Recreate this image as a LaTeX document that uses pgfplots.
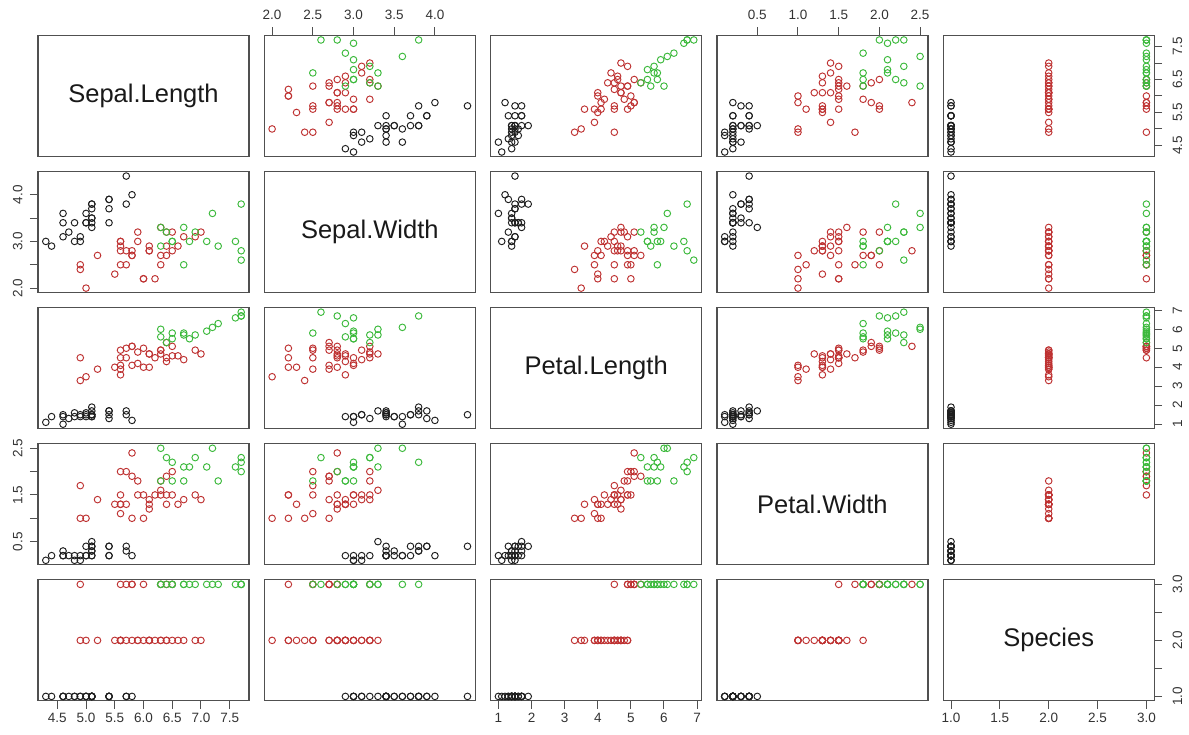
\documentclass[border=0pt]{standalone}
\usepackage{pgfplots}
\pgfplotsset{compat=1.18}
\usepackage{pgfplotstable}
\usepackage{fontspec}
\setmainfont{Liberation Sans}

\definecolor{cA}{RGB}{30,30,30}
\definecolor{cB}{RGB}{190,50,50}
\definecolor{cC}{RGB}{60,185,60}
\definecolor{frm}{RGB}{80,80,80}

% cluster 1 (black)
\pgfplotstableread{
SL SW PL PW Sp
4.3 3.0 1.1 0.1 1
4.4 2.9 1.4 0.2 1
4.6 3.6 1.0 0.2 1
4.6 3.4 1.4 0.3 1
4.6 3.1 1.5 0.2 1
4.7 3.2 1.3 0.2 1
4.8 3.4 1.6 0.2 1
4.8 3.0 1.4 0.1 1
4.9 3.1 1.5 0.1 1
4.9 3.0 1.4 0.2 1
5.0 3.6 1.4 0.2 1
5.0 3.4 1.5 0.2 1
5.0 3.4 1.6 0.4 1
5.1 3.8 1.5 0.3 1
5.1 3.8 1.9 0.4 1
5.1 3.7 1.5 0.4 1
5.1 3.5 1.4 0.2 1
5.1 3.5 1.4 0.3 1
5.1 3.4 1.5 0.2 1
5.1 3.3 1.7 0.5 1
5.4 3.9 1.7 0.4 1
5.4 3.9 1.3 0.4 1
5.4 3.7 1.5 0.2 1
5.4 3.4 1.7 0.2 1
5.7 4.4 1.5 0.4 1
5.7 3.8 1.7 0.3 1
5.8 4.0 1.2 0.2 1
}\clA

% cluster 2 (red)
\pgfplotstableread{
SL SW PL PW Sp
4.9 2.4 3.3 1.0 2
5.0 2.0 3.5 1.0 2
5.2 2.7 3.9 1.4 2
5.5 2.3 4.0 1.3 2
5.6 3.0 4.5 1.5 2
5.6 3.0 4.1 1.3 2
5.6 2.9 3.6 1.3 2
5.6 2.5 3.9 1.1 2
5.7 2.8 4.5 1.3 2
5.8 2.7 4.1 1.0 2
5.9 3.2 4.8 1.8 2
5.9 3.0 4.2 1.5 2
6.0 2.2 4.0 1.0 2
6.1 2.9 4.7 1.4 2
6.1 2.8 4.0 1.3 2
6.1 2.8 4.7 1.2 2
6.2 2.2 4.5 1.5 2
6.3 3.3 4.7 1.6 2
6.3 2.5 4.9 1.5 2
6.4 3.2 4.5 1.5 2
6.4 2.9 4.3 1.3 2
6.5 2.8 4.6 1.5 2
6.6 2.9 4.6 1.3 2
6.7 3.1 4.4 1.4 2
6.9 3.1 4.9 1.5 2
7.0 3.2 4.7 1.4 2
4.9 2.5 4.5 1.7 3
5.6 2.8 4.9 2.0 3
5.7 2.5 5.0 2.0 3
5.8 2.8 5.1 2.4 3
5.8 2.7 5.1 1.9 3
6.0 2.2 5.0 1.5 3
6.3 2.7 4.9 1.8 3
6.4 2.7 5.3 1.9 3
6.5 3.2 5.1 2.0 3
}\clB

% cluster 3 (green)
\pgfplotstableread{
SL SW PL PW Sp
6.3 3.3 6.0 2.5 3
6.4 3.2 5.3 2.3 3
6.3 2.9 5.6 1.8 3
6.5 3.0 5.8 2.2 3
6.5 3.0 5.5 1.8 3
6.7 3.3 5.7 2.1 3
6.7 2.5 5.8 1.8 3
6.8 3.0 5.5 2.1 3
6.9 3.2 5.7 2.3 3
7.1 3.0 5.9 2.1 3
7.2 3.6 6.1 2.5 3
7.3 2.9 6.3 1.8 3
7.6 3.0 6.6 2.1 3
7.7 3.8 6.7 2.2 3
7.7 2.8 6.7 2.0 3
7.7 2.6 6.9 2.3 3
}\clC

\def\minSL{4.164}\def\maxSL{7.836}
\def\minSW{1.904}\def\maxSW{4.496}
\def\minPL{0.764}\def\maxPL{7.136}
\def\minPW{0.004}\def\maxPW{2.596}
\def\minSp{0.92}\def\maxSp{3.08}

\pgfplotsset{
  panel/.style={
    scale only axis, width=211pt, height=121pt, anchor=north west,
    clip=false,
    axis line style={frm, line width=1.2pt},
    every tick/.style={frm, line width=1pt},
    tick align=outside, major tick length=8pt,
    xtick=\empty, ytick=\empty,
    ticklabel style={font=\fontsize{13.5}{13.5}\selectfont, text=black!80},
  },
  pt/.style={only marks, mark=o, mark size=3.3pt, mark options={line width=0.95pt}},
  topax/.style={xtick pos=right, xticklabel pos=right, xticklabel shift=4pt},
  botax/.style={xtick pos=left, xticklabel pos=left, xticklabel shift=1pt},
  leftax/.style={ytick pos=left, yticklabel pos=left, yticklabel shift=4pt,
     yticklabel style={rotate=90, anchor=south}},
  rightax/.style={ytick pos=right, yticklabel pos=right, yticklabel shift=7pt,
     yticklabel style={rotate=90, anchor=north}},
  tSW/.style={topax, xtick={2,2.5,3,3.5,4}, xticklabels={2.0,2.5,3.0,3.5,4.0}},
  tPW/.style={topax, xtick={0.5,1,1.5,2,2.5}, xticklabels={0.5,1.0,1.5,2.0,2.5}},
  bSL/.style={botax, xtick={4.5,5,5.5,6,6.5,7,7.5}, xticklabels={4.5,5.0,5.5,6.0,6.5,7.0,7.5}},
  bPL/.style={botax, xtick={1,2,3,4,5,6,7}, xticklabels={1,2,3,4,5,6,7}},
  bSp/.style={botax, xtick={1,1.5,2,2.5,3}, xticklabels={1.0,1.5,2.0,2.5,3.0}},
  lSW/.style={leftax, ytick={2,2.5,3,3.5,4}, yticklabels={2.0,{},3.0,{},4.0}},
  lPW/.style={leftax, ytick={0.5,1,1.5,2,2.5}, yticklabels={0.5,{},1.5,{},2.5}},
  rSL/.style={rightax, ytick={4.5,5,5.5,6,6.5,7,7.5}, yticklabels={4.5,{},5.5,{},6.5,{},7.5}},
  rPL/.style={rightax, ytick={1,2,3,4,5,6,7}, yticklabels={1,2,3,4,5,6,7}},
  rSp/.style={rightax, ytick={1,1.5,2,2.5,3}, yticklabels={1.0,{},2.0,{},3.0}},
}

\newcommand{\scpanel}[5]{%
\begin{axis}[panel, at={(38pt+#2*226.3pt,699.5pt-#1*136.1pt)},
  xmin=\csname min#3\endcsname, xmax=\csname max#3\endcsname,
  ymin=\csname min#4\endcsname, ymax=\csname max#4\endcsname, #5]
\addplot[pt, draw=cA] table[x=#3,y=#4]{\clA};
\addplot[pt, draw=cB] table[x=#3,y=#4]{\clB};
\addplot[pt, draw=cC] table[x=#3,y=#4]{\clC};
\end{axis}}

\newcommand{\diagpanel}[4]{%
\begin{axis}[panel, at={(38pt+#1*226.3pt,699.5pt-#1*136.1pt)},
  xmin=\csname min#2\endcsname, xmax=\csname max#2\endcsname,
  ymin=\csname min#2\endcsname, ymax=\csname max#2\endcsname, #4]
\node[font=\fontsize{25.5}{30}\selectfont, text=black!90] at (rel axis cs:0.5,0.5) {#3};
\end{axis}}

\begin{document}
\begin{tikzpicture}
% row 0
\diagpanel{0}{SL}{Sepal.Length}{}
\scpanel{0}{1}{SW}{SL}{tSW}
\scpanel{0}{2}{PL}{SL}{}
\scpanel{0}{3}{PW}{SL}{tPW}
\scpanel{0}{4}{Sp}{SL}{rSL}
% row 1
\scpanel{1}{0}{SL}{SW}{lSW}
\diagpanel{1}{SW}{Sepal.Width}{}
\scpanel{1}{2}{PL}{SW}{}
\scpanel{1}{3}{PW}{SW}{}
\scpanel{1}{4}{Sp}{SW}{}
% row 2
\scpanel{2}{0}{SL}{PL}{}
\scpanel{2}{1}{SW}{PL}{}
\diagpanel{2}{PL}{Petal.Length}{}
\scpanel{2}{3}{PW}{PL}{}
\scpanel{2}{4}{Sp}{PL}{rPL}
% row 3
\scpanel{3}{0}{SL}{PW}{lPW}
\scpanel{3}{1}{SW}{PW}{}
\scpanel{3}{2}{PL}{PW}{}
\diagpanel{3}{PW}{Petal.Width}{}
\scpanel{3}{4}{Sp}{PW}{}
% row 4
\scpanel{4}{0}{SL}{Sp}{bSL}
\scpanel{4}{1}{SW}{Sp}{}
\scpanel{4}{2}{PL}{Sp}{bPL}
\scpanel{4}{3}{PW}{Sp}{}
\diagpanel{4}{Sp}{Species}{bSp, rSp}
\pgfresetboundingbox
\path[use as bounding box] (0,0) rectangle (1189pt,735pt);
\end{tikzpicture}
\end{document}
